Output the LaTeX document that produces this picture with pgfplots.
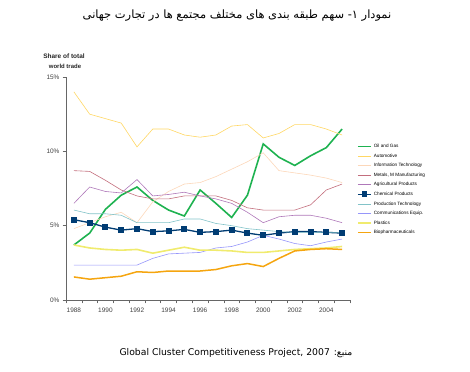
\documentclass[border=0pt]{standalone}
\usepackage{fontspec}
\setmainfont{Liberation Sans}
\newfontfamily\arabicfont[Script=Arabic]{DejaVu Sans}
\usepackage{pgfplots}
\pgfplotsset{compat=1.18}
\usepackage{pgfplotstable}
\TeXXeTstate=1
\definecolor{oilc}{RGB}{30,178,80}
\definecolor{autoc}{RGB}{255,215,100}
\definecolor{itc}{RGB}{252,215,185}
\definecolor{metc}{RGB}{195,110,125}
\definecolor{agric}{RGB}{175,120,185}
\definecolor{chemc}{RGB}{0,60,115}
\definecolor{prodc}{RGB}{130,195,200}
\definecolor{commc}{RGB}{150,150,250}
\definecolor{plastc}{RGB}{240,235,110}
\definecolor{bioc}{RGB}{245,165,15}
\pgfplotstableread{
year oil auto it metals agri chem prod comm plast bio
1988 3.7 14.0 4.8 8.7 6.5 5.4 6.05 2.35 3.7 1.55
1989 4.5 12.5 5.2 8.65 7.6 5.2 5.8 2.35 3.5 1.4
1990 6.1 12.2 5.6 8.05 7.3 4.9 5.8 2.35 3.4 1.5
1991 7.05 11.9 5.9 7.4 7.2 4.7 5.7 2.35 3.35 1.6
1992 7.6 10.3 5.2 7.0 8.1 4.8 5.2 2.35 3.4 1.9
1993 6.7 11.5 6.6 6.8 7.0 4.6 5.2 2.8 3.15 1.85
1994 6.05 11.5 7.3 6.8 7.1 4.65 5.2 3.1 3.35 1.95
1995 5.65 11.1 7.8 7.0 7.25 4.75 5.45 3.15 3.55 1.95
1996 7.4 10.95 7.9 7.0 7.0 4.55 5.45 3.2 3.35 1.95
1997 6.5 11.1 8.3 7.0 6.8 4.6 5.15 3.5 3.35 2.05
1998 5.55 11.7 8.8 6.7 6.5 4.7 5.0 3.6 3.3 2.3
1999 7.05 11.8 9.3 6.2 5.9 4.5 4.8 3.9 3.2 2.45
2000 10.5 10.9 9.9 6.05 5.2 4.35 4.7 4.35 3.2 2.25
2001 9.6 11.2 8.7 6.05 5.6 4.5 4.6 4.1 3.3 2.8
2002 9.05 11.8 8.55 6.05 5.7 4.6 4.55 3.8 3.4 3.3
2003 9.7 11.8 8.4 6.4 5.7 4.6 4.55 3.65 3.45 3.4
2004 10.25 11.5 8.2 7.4 5.5 4.55 4.55 3.9 3.5 3.45
2005 11.5 11.1 7.9 7.8 5.2 4.5 4.55 4.1 3.6 3.4
}\data
\begin{document}
\begin{tikzpicture}
\useasboundingbox (0,0) rectangle (470bp,372bp);
\node[font=\arabicfont\fontsize{11.5}{13}\selectfont] at (237bp,356bp) {\beginR نمودار ۱- سهم طبقه بندی های مختلف مجتمع ها در تجارت جهانی\endR};
\node[font=\bfseries\fontsize{6.5}{7}\selectfont, text=black!85] at (64bp,316bp) {Share of total};
\node[font=\bfseries\fontsize{6}{7}\selectfont, text=black!85] at (65bp,306bp) {world trade};
\node[font=\arabicfont\fontsize{9.3}{11}\selectfont] at (236bp,19bp) {\beginR منبع: \beginL Global Cluster Competitiveness Project, 2007\endL\endR};
\begin{axis}[
  scale only axis, width=284bp, height=223bp,
  at={(66bp,72bp)}, anchor=south west,
  xmin=1987.5, xmax=2005.5, ymin=0, ymax=15,
  axis lines=left,
  axis line style={-, draw=black!60, line width=0.6pt},
  tick align=outside,
  tick style={draw=black!60, line width=0.5pt},
  major tick length=0pt, minor tick length=3.5bp,
  xtick={1988,1990,1992,1994,1996,1998,2000,2002,2004},
  xticklabels={1988,1990,1992,1994,1996,1998,2000,2002,2004},
  minor xtick={1987.5,1988.5,1989.5,1990.5,1991.5,1992.5,1993.5,1994.5,1995.5,1996.5,1997.5,1998.5,1999.5,2000.5,2001.5,2002.5,2003.5,2004.5,2005.5},
  ytick={0,5,10,15},
  minor ytick={0,5,10,15},
  yticklabels={0\%,5\%,10\%,15\%},
  tick label style={font=\fontsize{6.5}{7}\selectfont, text=black!75},
  xticklabel style={yshift=-4bp},
  yticklabel style={xshift=-3bp},
  legend style={at={(1.0246,0.4955)}, anchor=west, draw=none, fill=none,
    inner sep=0pt, font=\fontsize{4.7}{5}\selectfont, row sep=5.1bp,
    nodes={inner sep=0pt, text height=3.4pt, text depth=1.1pt},
    /tikz/every odd column/.append style={column sep=2bp}},
  legend cell align=left,
  legend image code/.code={\draw[mark repeat=2,mark phase=2] plot coordinates {(0bp,0bp) (6.5bp,0bp) (13bp,0bp)};},
]
\addplot[color=oilc, line width=1.6bp] table[x=year,y=oil]{\data};
\addlegendentry{Oil and Gas}
\addplot[color=autoc, line width=0.6bp] table[x=year,y=auto]{\data};
\addlegendentry{Automotive}
\addplot[color=itc, line width=0.6bp] table[x=year,y=it]{\data};
\addlegendentry{Information Technology}
\addplot[color=metc, line width=0.6bp] table[x=year,y=metals]{\data};
\addlegendentry{Metals, M Manufacturing}
\addplot[color=agric, line width=0.6bp] table[x=year,y=agri]{\data};
\addlegendentry{Agricultural Products}
\addplot[color=chemc, line width=1.3bp, mark=square*, mark size=2.3bp] table[x=year,y=chem]{\data};
\addlegendentry{Chemical Products}
\addplot[color=prodc, line width=0.6bp] table[x=year,y=prod]{\data};
\addlegendentry{Production Technology}
\addplot[color=commc, line width=0.6bp] table[x=year,y=comm]{\data};
\addlegendentry{Communications Equip.}
\addplot[color=plastc, line width=1.6bp] table[x=year,y=plast]{\data};
\addlegendentry{Plastics}
\addplot[color=bioc, line width=1.5bp] table[x=year,y=bio]{\data};
\addlegendentry{Biopharmaceuticals}
\end{axis}
\end{tikzpicture}
\end{document}
